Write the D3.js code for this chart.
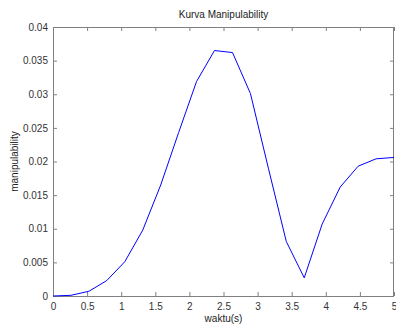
<!DOCTYPE html>
<html>
<head>
<meta charset="utf-8">
<script src="https://cdn.jsdelivr.net/npm/d3@7"></script>
<style>
  body { margin: 0; background: #fff; }
  text { font-family: "Liberation Sans", Arial, sans-serif; }
</style>
</head>
<body>
<div id="chart"></div>
<script>
// waktu (s) samples and manipulability values
var waktu = [0, 0.263, 0.526, 0.789, 1.053, 1.316, 1.579, 1.842, 2.105, 2.368,
             2.632, 2.895, 3.158, 3.421, 3.684, 3.947, 4.211, 4.474, 4.737, 5];
var manip = [0, 0.0001, 0.0007, 0.0023, 0.0051, 0.0098, 0.0165, 0.0243, 0.0319, 0.0365,
             0.0362, 0.0301, 0.0190, 0.0081, 0.0027, 0.0107, 0.0162, 0.0193, 0.0204, 0.0206];
var x_ticks = [0, 0.5, 1, 1.5, 2, 2.5, 3, 3.5, 4, 4.5, 5];
var y_ticks = [0, 0.005, 0.01, 0.015, 0.02, 0.025, 0.03, 0.035, 0.04];

var svg_width = 396, svg_height = 326;
var margin = { top: 27, right: 2, bottom: 30, left: 53 };
var axis_color = "#808080", text_color = "#333";

var svg = d3.select("#chart").append("svg")
    .attr("width", svg_width)
    .attr("height", svg_height);

var x = d3.scaleLinear().domain([0, 5]).range([margin.left, svg_width - margin.right]);
var y = d3.scaleLinear().domain([0, 0.04]).range([svg_height - margin.bottom, margin.top]);

function style_axis(g) {
    g.select(".domain").remove();
    g.selectAll(".tick line").attr("stroke", axis_color);
    g.selectAll(".tick text").attr("fill", text_color).style("font-size", "10px")
        .style("font-family", "'Liberation Sans', Arial, sans-serif");
}

// bottom / left axes with inward ticks
svg.append("g")
    .attr("transform", "translate(0," + y(0) + ")")
    .call(d3.axisBottom(x).tickValues(x_ticks).tickSizeInner(-4).tickSizeOuter(0).tickPadding(7).tickFormat(d3.format("")))
    .call(style_axis);

svg.append("g")
    .attr("transform", "translate(" + x(0) + ",0)")
    .call(d3.axisLeft(y).tickValues(y_ticks).tickSizeInner(-4).tickSizeOuter(0).tickPadding(5).tickFormat(d3.format("")))
    .call(style_axis);

// top / right ticks without labels
svg.append("g")
    .attr("transform", "translate(0," + y(0.04) + ")")
    .call(d3.axisTop(x).tickValues(x_ticks).tickSizeInner(-4).tickSizeOuter(0).tickFormat(""))
    .call(style_axis);

svg.append("g")
    .attr("transform", "translate(" + x(5) + ",0)")
    .call(d3.axisRight(y).tickValues(y_ticks).tickSizeInner(-4).tickSizeOuter(0).tickFormat(""))
    .call(style_axis);

// box
svg.append("rect")
    .attr("x", x(0) + 0.5)
    .attr("y", y(0.04) + 0.5)
    .attr("width", x(5) - x(0) - 1)
    .attr("height", y(0) - y(0.04))
    .attr("fill", "none")
    .attr("stroke", axis_color)
    .attr("stroke-width", 1);

// curve
var line = d3.line()
    .x(function(d, i) { return x(waktu[i]); })
    .y(function(d) { return y(d); });

svg.append("path")
    .datum(manip)
    .attr("d", line)
    .attr("fill", "none")
    .attr("stroke", "#0000ff")
    .attr("stroke-width", 1);

// labels
svg.append("text")
    .attr("x", (x(0) + x(5)) / 2)
    .attr("y", 18)
    .attr("text-anchor", "middle")
    .style("font-size", "10px")
    .attr("fill", "#222")
    .text("Kurva Manipulability");

svg.append("text")
    .attr("x", (x(0) + x(5)) / 2)
    .attr("y", 322)
    .attr("text-anchor", "middle")
    .style("font-size", "10px")
    .attr("fill", "#222")
    .text("waktu(s)");

svg.append("text")
    .attr("transform", "translate(18," + ((y(0) + y(0.04)) / 2) + ") rotate(-90)")
    .attr("text-anchor", "middle")
    .style("font-size", "10px")
    .attr("fill", "#222")
    .text("manipulability");
</script>
</body>
</html>
